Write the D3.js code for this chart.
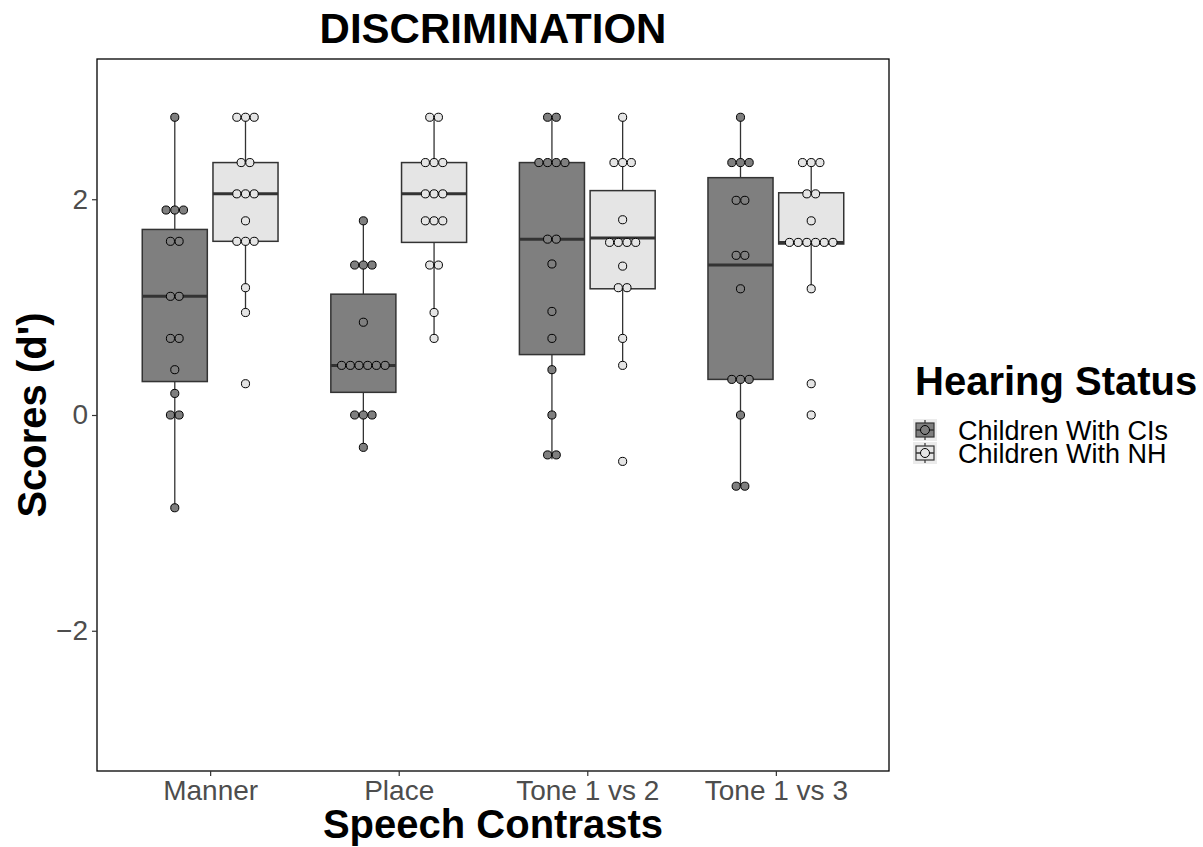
<!DOCTYPE html>
<html>
<head>
<meta charset="utf-8">
<script src="https://cdn.jsdelivr.net/npm/d3@7"></script>
<style>
  html, body { margin: 0; padding: 0; background: #ffffff; }
  svg { display: block; font-family: "Liberation Sans", Arial, Helvetica, sans-serif; }
</style>
</head>
<body>
<svg id="chart" width="1203" height="847"></svg>
<script>
// ---------------- DATA ----------------
const categories = ["Manner", "Place", "Tone 1 vs 2", "Tone 1 vs 3"];
const groups = ["Children With CIs", "Children With NH"];
const yTicks = [-2, 0, 2];

// dot positions (d') per category, Children With CIs
const ciDots = [
  [2.76, 1.90, 1.90, 1.90, 1.61, 1.61, 1.10, 1.10, 0.71, 0.71, 0.42, 0.20, 0.00, 0.00, -0.86],
  [1.80, 1.39, 1.39, 1.39, 0.86, 0.46, 0.46, 0.46, 0.46, 0.46, 0.46, 0.00, 0.00, 0.00, -0.30],
  [2.76, 2.76, 2.34, 2.34, 2.34, 2.34, 1.63, 1.63, 1.40, 0.96, 0.71, 0.42, 0.00, -0.37, -0.37],
  [2.76, 2.34, 2.34, 2.34, 1.99, 1.99, 1.48, 1.48, 1.17, 0.33, 0.33, 0.33, 0.00, -0.66, -0.66]
];
// dot positions (d') per category, Children With NH
const nhDots = [
  [2.76, 2.76, 2.76, 2.34, 2.34, 2.05, 2.05, 2.05, 1.80, 1.61, 1.61, 1.61, 1.18, 0.95, 0.29],
  [2.76, 2.76, 2.34, 2.34, 2.34, 2.05, 2.05, 2.05, 1.80, 1.80, 1.80, 1.39, 1.39, 0.95, 0.71],
  [2.76, 2.34, 2.34, 2.34, 1.81, 1.60, 1.60, 1.60, 1.60, 1.38, 1.18, 1.18, 0.71, 0.46, -0.43],
  [2.34, 2.34, 2.34, 2.05, 2.05, 1.80, 1.60, 1.60, 1.60, 1.60, 1.60, 1.60, 1.17, 0.29, 0.00]
];
// box statistics [lower whisker, Q1, median, Q3, upper whisker]
const ciBox = [
  [-0.86, 0.31, 1.10, 1.72, 2.76],
  [-0.30, 0.21, 0.46, 1.12, 1.80],
  [-0.41, 0.56, 1.63, 2.34, 2.76],
  [-0.66, 0.33, 1.39, 2.20, 2.76]
];
const nhBox = [
  [0.95, 1.61, 2.05, 2.34, 2.76],
  [0.71, 1.60, 2.05, 2.34, 2.76],
  [0.46, 1.17, 1.64, 2.08, 2.76],
  [1.17, 1.585, 1.60, 2.06, 2.34]
];
const fills = ["#7f7f7f", "#e5e5e5"];

// ---------------- LAYOUT ----------------
const svg = d3.select("#chart");
const panel = { left: 97, right: 889, top: 59, bottom: 771 };

const x = d3.scalePoint().domain(categories).range([panel.left, panel.right]).padding(0.6);
const dodge = d3.scaleBand().domain(groups).range([-0.375 * x.step(), 0.375 * x.step()]);
const y = d3.scaleLinear().domain([-3.3, 3.3]).range([panel.bottom, panel.top]);

const boxW = 0.345 * x.step();
const dotD = 8.7;
const ink = "#333333";

svg.append("rect").attr("width", 1203).attr("height", 847).attr("fill", "#ffffff");

const series = [
  { g: groups[0], box: ciBox, dots: ciDots, fill: fills[0] },
  { g: groups[1], box: nhBox, dots: nhDots, fill: fills[1] }
];

const plot = svg.append("g");

series.forEach(s => {
  categories.forEach((c, i) => {
    const cx = x(c) + dodge(s.g) + dodge.bandwidth() / 2;
    const [lo, q1, med, q3, hi] = s.box[i];
    const gg = plot.append("g");
    gg.append("line").attr("x1", cx).attr("x2", cx).attr("y1", y(hi)).attr("y2", y(q3))
      .attr("stroke", ink).attr("stroke-width", 1.3);
    gg.append("line").attr("x1", cx).attr("x2", cx).attr("y1", y(q1)).attr("y2", y(lo))
      .attr("stroke", ink).attr("stroke-width", 1.3);
    gg.append("rect").attr("x", cx - boxW / 2).attr("y", y(q3))
      .attr("width", boxW).attr("height", y(q1) - y(q3))
      .attr("fill", s.fill).attr("stroke", ink).attr("stroke-width", 1.5);
    gg.append("line").attr("x1", cx - boxW / 2).attr("x2", cx + boxW / 2)
      .attr("y1", y(med)).attr("y2", y(med))
      .attr("stroke", ink).attr("stroke-width", 3);
  });
});

// dots (stacked horizontally, centred)
series.forEach(s => {
  categories.forEach((c, i) => {
    const cx = x(c) + dodge(s.g) + dodge.bandwidth() / 2;
    const bins = d3.groups(s.dots[i], v => v);
    bins.forEach(([v, arr]) => {
      const n = arr.length;
      arr.forEach((_, k) => {
        plot.append("circle")
          .attr("cx", cx + (k - (n - 1) / 2) * dotD)
          .attr("cy", y(v))
          .attr("r", dotD / 2 - 0.3)
          .attr("fill", s.fill)
          .attr("stroke", "#000")
          .attr("stroke-width", 1);
      });
    });
  });
});

// panel border
svg.append("rect").attr("x", panel.left).attr("y", panel.top)
  .attr("width", panel.right - panel.left).attr("height", panel.bottom - panel.top)
  .attr("fill", "none").attr("stroke", "#000").attr("stroke-width", 1.3);

// axes
const yAxis = svg.append("g").attr("transform", `translate(${panel.left},0)`)
  .call(d3.axisLeft(y).tickValues(yTicks).tickSize(5).tickPadding(4).tickFormat(d3.format("d")));
const xAxis = svg.append("g").attr("transform", `translate(0,${panel.bottom})`)
  .call(d3.axisBottom(x).tickSize(5).tickPadding(4));
[yAxis, xAxis].forEach(a => {
  a.select(".domain").remove();
  a.selectAll(".tick line").attr("stroke", ink).attr("stroke-width", 1.2);
  a.selectAll(".tick text").attr("fill", "#4d4d4d").style("font-size", "28px")
    .style("font-family", "'Liberation Sans', Arial, Helvetica, sans-serif");
});

// titles
svg.append("text").attr("x", (panel.left + panel.right) / 2).attr("y", 43)
  .attr("text-anchor", "middle").style("font-size", "42px").style("font-weight", "bold")
  .text("DISCRIMINATION");
svg.append("text").attr("x", (panel.left + panel.right) / 2).attr("y", 838)
  .attr("text-anchor", "middle").style("font-size", "40px").style("font-weight", "bold")
  .text("Speech Contrasts");
svg.append("text")
  .attr("transform", `translate(46,${(panel.top + panel.bottom) / 2}) rotate(-90)`)
  .attr("text-anchor", "middle").style("font-size", "40px").style("font-weight", "bold")
  .text("Scores (d')");

// legend
const lg = svg.append("g");
lg.append("text").attr("x", 915).attr("y", 395)
  .style("font-size", "40px").style("font-weight", "bold").text("Hearing Status");
groups.forEach((g, i) => {
  const ky = 419 + i * 23;
  const kx = 913;
  const k = lg.append("g");
  k.append("rect").attr("x", kx).attr("y", ky).attr("width", 24).attr("height", 22).attr("fill", "#ebebeb");
  k.append("line").attr("x1", kx + 12).attr("x2", kx + 12).attr("y1", ky + 1).attr("y2", ky + 21)
    .attr("stroke", ink).attr("stroke-width", 1.2);
  k.append("rect").attr("x", kx + 3).attr("y", ky + 4).attr("width", 18).attr("height", 14)
    .attr("fill", fills[i]).attr("stroke", ink).attr("stroke-width", 1.2);
  k.append("line").attr("x1", kx + 3).attr("x2", kx + 21).attr("y1", ky + 11).attr("y2", ky + 11)
    .attr("stroke", ink).attr("stroke-width", 1.5);
  k.append("circle").attr("cx", kx + 12).attr("cy", ky + 11).attr("r", 4.5)
    .attr("fill", fills[i]).attr("stroke", "#000").attr("stroke-width", 1);
  lg.append("text").attr("x", 958).attr("y", ky + 21)
    .style("font-size", "27px").attr("fill", "#000").text(g);
});
</script>
</body>
</html>
